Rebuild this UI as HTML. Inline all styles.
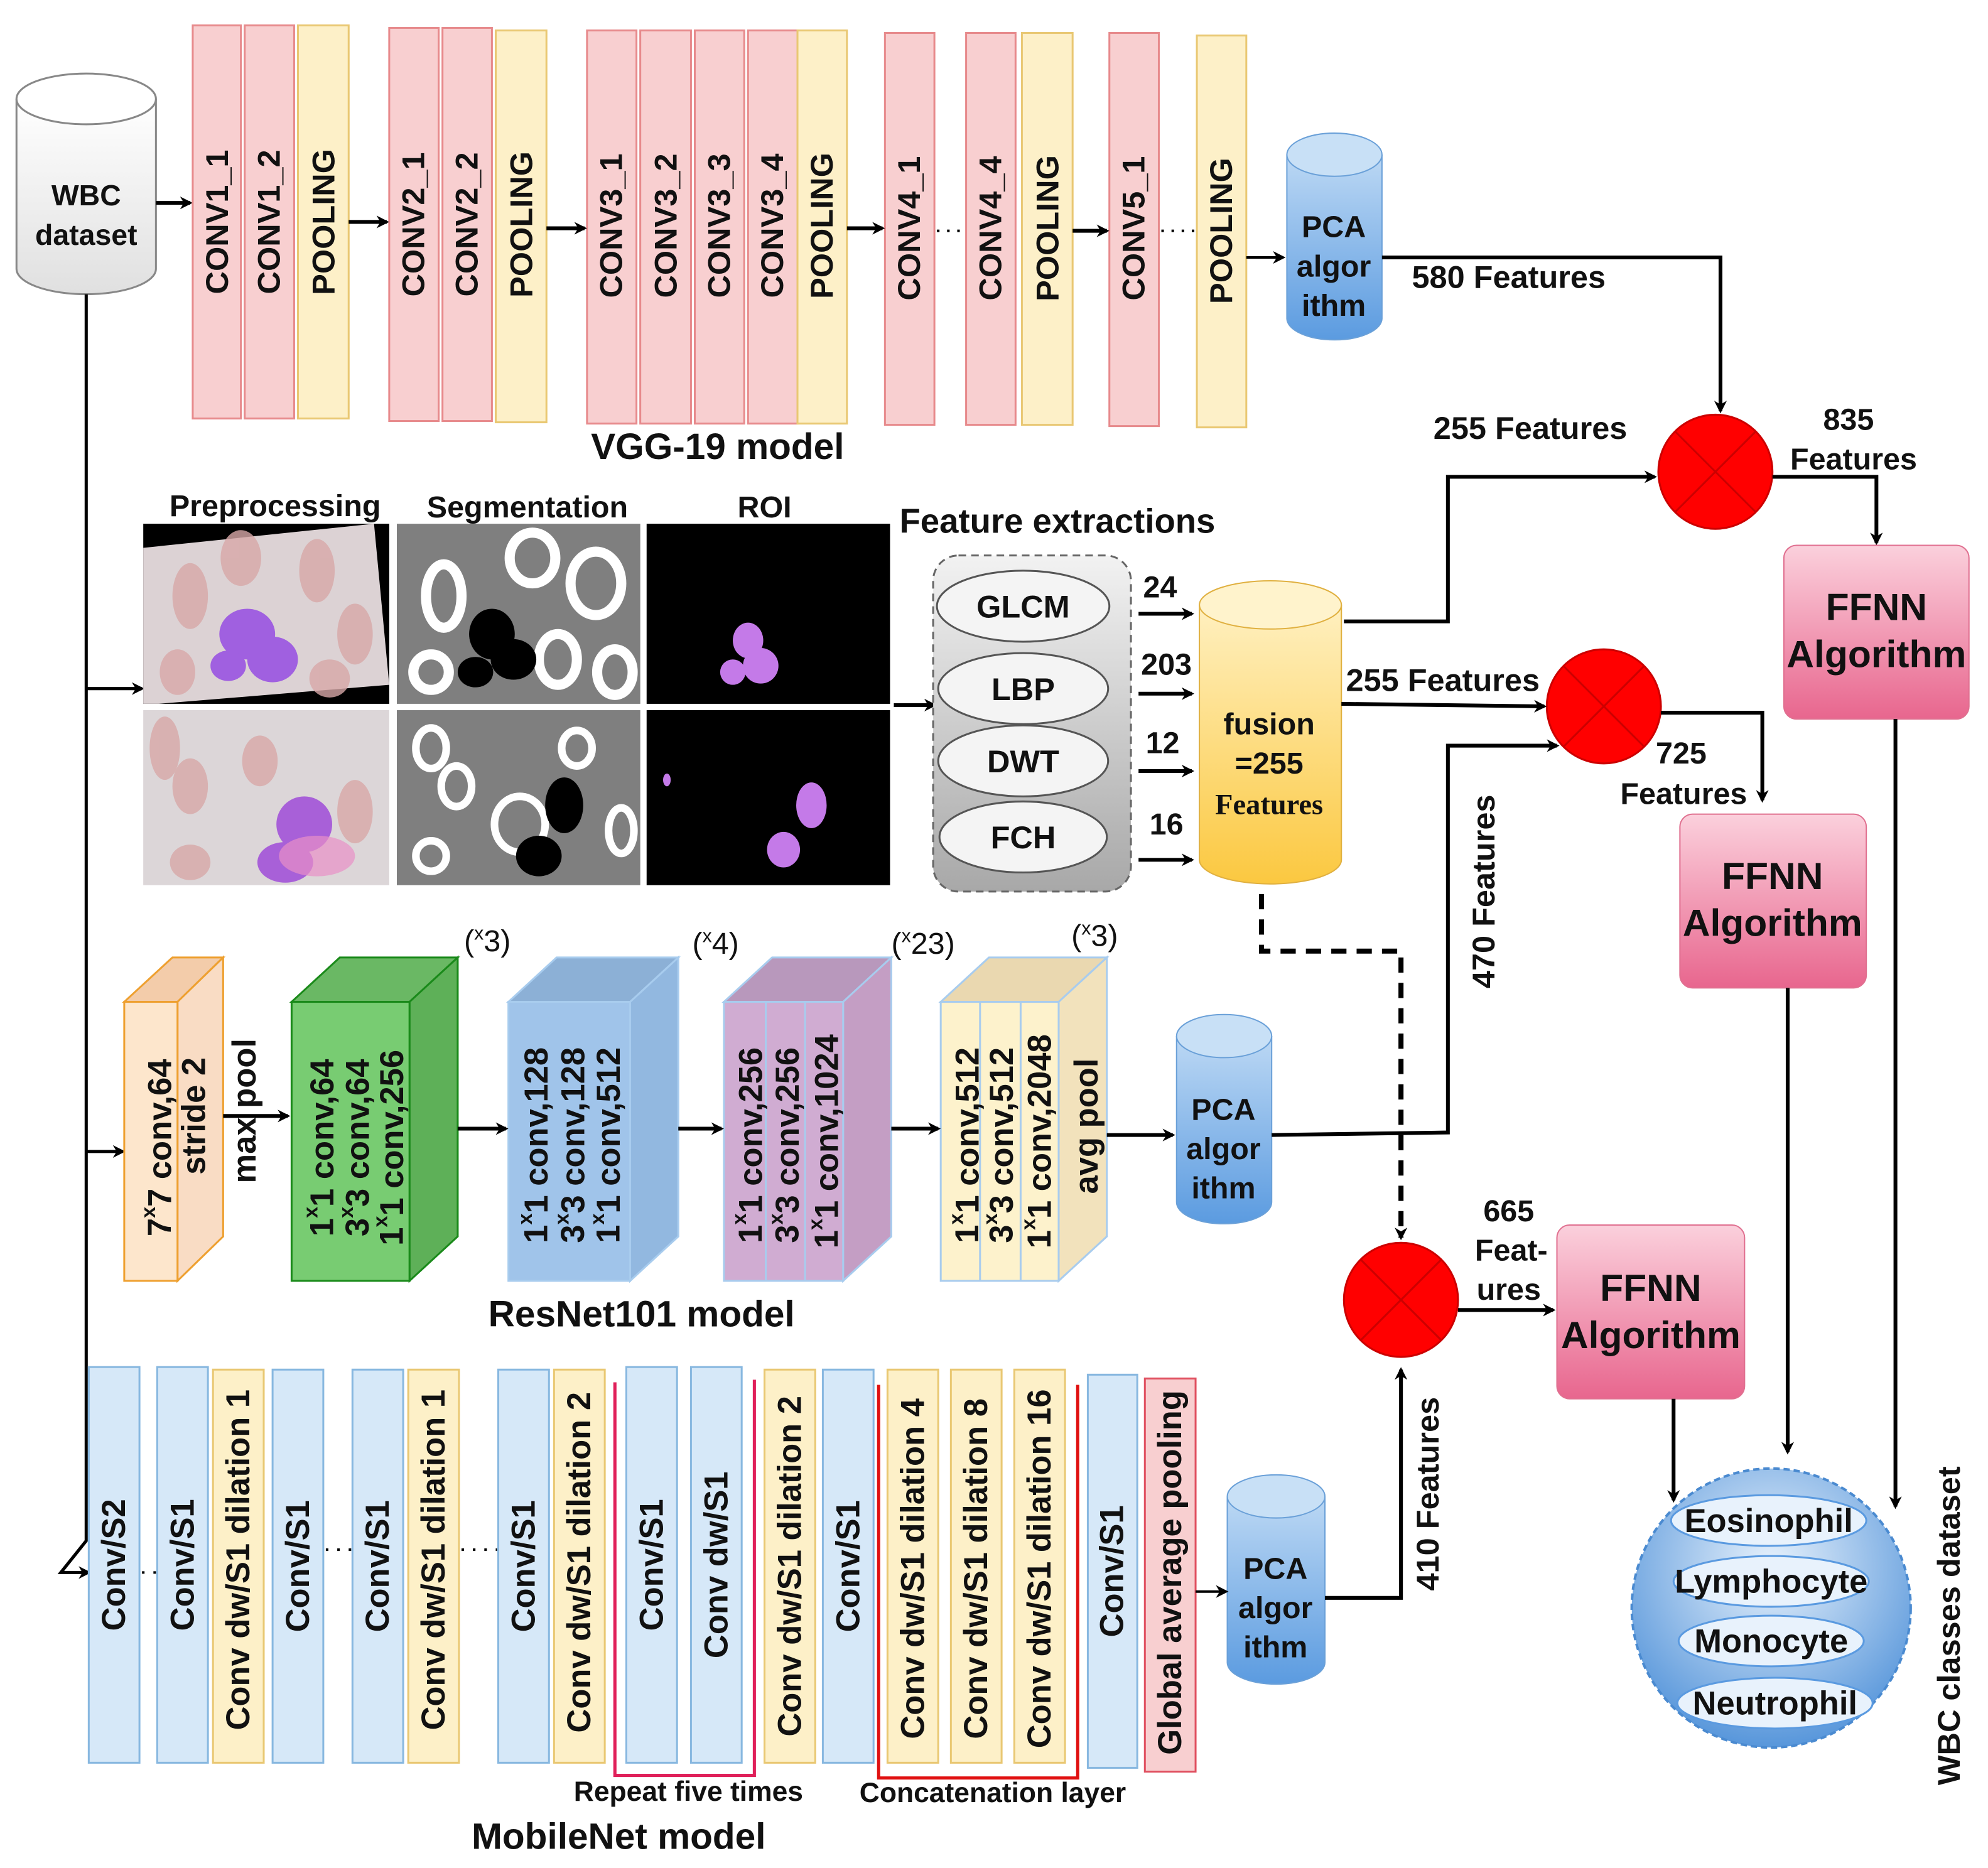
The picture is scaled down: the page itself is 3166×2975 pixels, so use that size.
<!DOCTYPE html>
<html><head><meta charset="utf-8"><style>
html,body{margin:0;padding:0;background:#fff;}
svg{display:block;}
text{font-family:"Liberation Sans",sans-serif;font-weight:bold;fill:#111;}
</style></head><body>
<svg width="3166" height="2975" viewBox="0 0 1568 1473" preserveAspectRatio="none" xmlns="http://www.w3.org/2000/svg">
<defs>
<marker id="ar" markerWidth="10" markerHeight="10" refX="8" refY="5" orient="auto" markerUnits="userSpaceOnUse"><path d="M0,0 L10,5 L0,10 L3,5 z" fill="#000"/></marker>
<linearGradient id="cylB" x1="0" y1="0" x2="0" y2="1"><stop offset="0" stop-color="#bcd8f4"/><stop offset="1" stop-color="#5b9be0"/></linearGradient>
<linearGradient id="cylY" x1="0" y1="0" x2="0" y2="1"><stop offset="0" stop-color="#fff0c0"/><stop offset="1" stop-color="#fbc840"/></linearGradient>
<linearGradient id="ffnn" x1="0" y1="0" x2="0" y2="1"><stop offset="0" stop-color="#fbd0dc"/><stop offset="1" stop-color="#e8668e"/></linearGradient>
<linearGradient id="gray" x1="0" y1="0" x2="0" y2="1"><stop offset="0" stop-color="#f2f2f2"/><stop offset="1" stop-color="#a8a8a8"/></linearGradient>
<radialGradient id="out" cx="0.5" cy="0.35" r="0.7"><stop offset="0" stop-color="#e8f2fc"/><stop offset="1" stop-color="#4c8fd8"/></radialGradient>
<linearGradient id="cylW" x1="0" y1="0" x2="0" y2="1"><stop offset="0" stop-color="#fff"/><stop offset="1" stop-color="#e0e0e0"/></linearGradient>
</defs>

<path d="M13,78 L13,212 A55,20 0 0 0 123,212 L123,78" fill="url(#cylW)" stroke="#888" stroke-width="1.5"/>
<ellipse cx="68" cy="78" rx="55" ry="20" fill="#fff" stroke="#888" stroke-width="1.5"/>
<text x="68" y="162" font-size="23" text-anchor="middle">WBC</text>
<text x="68" y="193" font-size="23" text-anchor="middle">dataset</text>
<line x1="123" y1="160" x2="150" y2="160" stroke="#000" stroke-width="3" marker-end="url(#ar)"/>

<polyline points="68,232 68,1215 48,1240 70,1240" fill="none" stroke="#000" stroke-width="2.5" marker-end="url(#ar)"/>
<line x1="68" y1="543" x2="112" y2="543" stroke="#000" stroke-width="2.5" marker-end="url(#ar)"/>
<line x1="68" y1="908" x2="97" y2="908" stroke="#000" stroke-width="2.5" marker-end="url(#ar)"/>

<g stroke-width="1.5">
<rect x="152" y="20" width="38" height="310" fill="#f8cfd0" stroke="#e78a8c"/>
<rect x="193" y="20" width="39" height="310" fill="#f8cfd0" stroke="#e78a8c"/>
<rect x="235" y="20" width="40" height="310" fill="#fdf0c8" stroke="#e9c873"/>
<rect x="307" y="22" width="39" height="310" fill="#f8cfd0" stroke="#e78a8c"/>
<rect x="349" y="22" width="39" height="310" fill="#f8cfd0" stroke="#e78a8c"/>
<rect x="391" y="24" width="40" height="309" fill="#fdf0c8" stroke="#e9c873"/>
<rect x="463" y="24" width="39" height="310" fill="#f8cfd0" stroke="#e78a8c"/>
<rect x="505" y="24" width="40" height="310" fill="#f8cfd0" stroke="#e78a8c"/>
<rect x="548" y="24" width="39" height="310" fill="#f8cfd0" stroke="#e78a8c"/>
<rect x="590" y="24" width="39" height="310" fill="#f8cfd0" stroke="#e78a8c"/>
<rect x="629" y="24" width="39" height="310" fill="#fdf0c8" stroke="#e9c873"/>
<rect x="698" y="26" width="39" height="309" fill="#f8cfd0" stroke="#e78a8c"/>
<rect x="762" y="26" width="39" height="309" fill="#f8cfd0" stroke="#e78a8c"/>
<rect x="806" y="26" width="40" height="309" fill="#fdf0c8" stroke="#e9c873"/>
<rect x="875" y="26" width="39" height="310" fill="#f8cfd0" stroke="#e78a8c"/>
<rect x="944" y="28" width="39" height="309" fill="#fdf0c8" stroke="#e9c873"/>
</g>
<g font-size="25">
<text transform="translate(171,175) rotate(-90)" text-anchor="middle" dominant-baseline="central">CONV1_1</text>
<text transform="translate(212,175) rotate(-90)" text-anchor="middle" dominant-baseline="central">CONV1_2</text>
<text transform="translate(255,175) rotate(-90)" text-anchor="middle" dominant-baseline="central">POOLING</text>
<text transform="translate(326,177) rotate(-90)" text-anchor="middle" dominant-baseline="central">CONV2_1</text>
<text transform="translate(368,177) rotate(-90)" text-anchor="middle" dominant-baseline="central">CONV2_2</text>
<text transform="translate(411,177) rotate(-90)" text-anchor="middle" dominant-baseline="central">POOLING</text>
<text transform="translate(482,178) rotate(-90)" text-anchor="middle" dominant-baseline="central">CONV3_1</text>
<text transform="translate(525,178) rotate(-90)" text-anchor="middle" dominant-baseline="central">CONV3_2</text>
<text transform="translate(567,178) rotate(-90)" text-anchor="middle" dominant-baseline="central">CONV3_3</text>
<text transform="translate(609,178) rotate(-90)" text-anchor="middle" dominant-baseline="central">CONV3_4</text>
<text transform="translate(648,178) rotate(-90)" text-anchor="middle" dominant-baseline="central">POOLING</text>
<text transform="translate(717,180) rotate(-90)" text-anchor="middle" dominant-baseline="central">CONV4_1</text>
<text transform="translate(781,180) rotate(-90)" text-anchor="middle" dominant-baseline="central">CONV4_4</text>
<text transform="translate(826,180) rotate(-90)" text-anchor="middle" dominant-baseline="central">POOLING</text>
<text transform="translate(894,180) rotate(-90)" text-anchor="middle" dominant-baseline="central">CONV5_1</text>
<text transform="translate(963,182) rotate(-90)" text-anchor="middle" dominant-baseline="central">POOLING</text>
</g>
<g stroke="#000" stroke-width="3" fill="none">
<line x1="275" y1="175" x2="305" y2="175" marker-end="url(#ar)"/>
<line x1="431" y1="180" x2="461" y2="180" marker-end="url(#ar)"/>
<line x1="668" y1="180" x2="696" y2="180" marker-end="url(#ar)"/>
<line x1="846" y1="182" x2="873" y2="182" marker-end="url(#ar)"/>
<line x1="983" y1="203" x2="1012" y2="203" stroke-width="2" marker-end="url(#ar)"/>
</g>
<g stroke="#000" stroke-width="2" stroke-dasharray="2,6"><line x1="739" y1="182" x2="761" y2="182"/><line x1="916" y1="182" x2="943" y2="182"/></g>
<text x="566" y="362" font-size="29" text-anchor="middle">VGG-19 model</text>

<g>
<path d="M1015,122 L1015,251 A37.5,17 0 0 0 1090,251 L1090,122" fill="url(#cylB)" stroke="#6aa0d8"/>
<ellipse cx="1052.5" cy="122" rx="37.5" ry="17" fill="#c8e0f6" stroke="#6aa0d8"/>
<text x="1052" y="187" font-size="24" text-anchor="middle">PCA</text><text x="1052" y="218" font-size="24" text-anchor="middle">algor</text><text x="1052" y="249" font-size="24" text-anchor="middle">ithm</text>
</g>
<g>
<path d="M928,817 L928,948 A37.5,17 0 0 0 1003,948 L1003,817" fill="url(#cylB)" stroke="#6aa0d8"/>
<ellipse cx="965.5" cy="817" rx="37.5" ry="17" fill="#c8e0f6" stroke="#6aa0d8"/>
<text x="965" y="883" font-size="24" text-anchor="middle">PCA</text><text x="965" y="914" font-size="24" text-anchor="middle">algor</text><text x="965" y="945" font-size="24" text-anchor="middle">ithm</text>
</g>
<g>
<path d="M968,1180 L968,1311 A38.5,17 0 0 0 1045,1311 L1045,1180" fill="url(#cylB)" stroke="#6aa0d8"/>
<ellipse cx="1006.5" cy="1180" rx="38.5" ry="17" fill="#c8e0f6" stroke="#6aa0d8"/>
<text x="1006" y="1245" font-size="24" text-anchor="middle">PCA</text><text x="1006" y="1276" font-size="24" text-anchor="middle">algor</text><text x="1006" y="1307" font-size="24" text-anchor="middle">ithm</text>
</g>

<polyline points="1090,203 1357,203 1357,324" fill="none" stroke="#000" stroke-width="3" marker-end="url(#ar)"/>
<text x="1190" y="227" font-size="25" text-anchor="middle">580 Features</text>

<g stroke="#c00" stroke-width="1.5">
<circle cx="1353" cy="372" r="45" fill="#f00"/>
<line x1="1321" y1="340" x2="1385" y2="404"/><line x1="1385" y1="340" x2="1321" y2="404"/>
<circle cx="1265" cy="557" r="45" fill="#f00"/>
<line x1="1233" y1="525" x2="1297" y2="589"/><line x1="1297" y1="525" x2="1233" y2="589"/>
<circle cx="1105" cy="1025" r="45" fill="#f00"/>
<line x1="1073" y1="993" x2="1137" y2="1057"/><line x1="1137" y1="993" x2="1073" y2="1057"/>
</g>
<text x="1458" y="339" font-size="24" text-anchor="middle">835</text>
<text x="1462" y="370" font-size="24" text-anchor="middle">Features</text>
<polyline points="1398,376 1480,376 1480,428" fill="none" stroke="#000" stroke-width="3" marker-end="url(#ar)"/>
<text x="1207" y="346" font-size="25" text-anchor="middle">255 Features</text>
<polyline points="1060,490 1142,490 1142,376 1305,376" fill="none" stroke="#000" stroke-width="3" marker-end="url(#ar)"/>

<rect x="1407" y="430" width="146" height="137" rx="10" fill="url(#ffnn)" stroke="#e07090"/>
<text x="1480" y="489" font-size="30" text-anchor="middle">FFNN</text><text x="1480" y="526" font-size="30" text-anchor="middle">Algorithm</text>
<rect x="1325" y="642" width="147" height="137" rx="10" fill="url(#ffnn)" stroke="#e07090"/>
<text x="1398" y="701" font-size="30" text-anchor="middle">FFNN</text><text x="1398" y="738" font-size="30" text-anchor="middle">Algorithm</text>
<rect x="1228" y="966" width="148" height="137" rx="10" fill="url(#ffnn)" stroke="#e07090"/>
<text x="1302" y="1026" font-size="30" text-anchor="middle">FFNN</text><text x="1302" y="1063" font-size="30" text-anchor="middle">Algorithm</text>

<line x1="1495" y1="567" x2="1495" y2="1188" stroke="#000" stroke-width="3" marker-end="url(#ar)"/>
<line x1="1410" y1="779" x2="1410" y2="1145" stroke="#000" stroke-width="3" marker-end="url(#ar)"/>
<line x1="1320" y1="1103" x2="1320" y2="1183" stroke="#000" stroke-width="3" marker-end="url(#ar)"/>

<rect x="113" y="413" width="194" height="142" fill="#000"/>
<polygon points="113,432 295,413 307,540 125,555 113,555" fill="#dcd2d4"/>
<g fill="#d8a8a8" opacity="0.8"><ellipse cx="150" cy="470" rx="14" ry="26"/><ellipse cx="190" cy="440" rx="16" ry="22"/><ellipse cx="250" cy="450" rx="14" ry="25"/><ellipse cx="280" cy="500" rx="14" ry="24"/><ellipse cx="140" cy="530" rx="14" ry="18"/><ellipse cx="260" cy="535" rx="16" ry="15"/></g>
<g fill="#a060e0"><ellipse cx="195" cy="500" rx="22" ry="20"/><ellipse cx="215" cy="520" rx="20" ry="18"/><ellipse cx="180" cy="525" rx="14" ry="12"/></g>
<rect x="113" y="560" width="194" height="138" fill="#dcd6d8"/>
<g fill="#d8a8a8" opacity="0.8"><ellipse cx="130" cy="590" rx="12" ry="25"/><ellipse cx="150" cy="620" rx="14" ry="22"/><ellipse cx="205" cy="600" rx="14" ry="20"/><ellipse cx="280" cy="640" rx="14" ry="25"/><ellipse cx="150" cy="680" rx="16" ry="14"/></g>
<g fill="#a860d8"><ellipse cx="240" cy="650" rx="22" ry="22"/><ellipse cx="225" cy="680" rx="22" ry="16"/></g>
<g fill="#e890c8" opacity="0.7"><ellipse cx="250" cy="675" rx="30" ry="16"/></g>

<rect x="313" y="413" width="192" height="142" fill="#7f7f7f"/>
<g fill="none" stroke="#fff" stroke-width="8"><ellipse cx="420" cy="440" rx="18" ry="20"/><ellipse cx="470" cy="460" rx="20" ry="25"/><ellipse cx="350" cy="470" rx="14" ry="25"/><ellipse cx="440" cy="520" rx="15" ry="20"/><ellipse cx="485" cy="530" rx="14" ry="18"/><ellipse cx="340" cy="530" rx="14" ry="14"/></g>
<g fill="#000"><ellipse cx="388" cy="500" rx="18" ry="20"/><ellipse cx="405" cy="520" rx="18" ry="16"/><ellipse cx="375" cy="530" rx="14" ry="12"/></g>
<rect x="313" y="560" width="192" height="138" fill="#7f7f7f"/>
<g fill="none" stroke="#fff" stroke-width="6"><ellipse cx="340" cy="590" rx="12" ry="16"/><ellipse cx="360" cy="620" rx="12" ry="16"/><ellipse cx="455" cy="590" rx="12" ry="14"/><ellipse cx="490" cy="655" rx="10" ry="18"/><ellipse cx="340" cy="675" rx="12" ry="12"/><ellipse cx="410" cy="650" rx="20" ry="22"/></g>
<g fill="#000"><ellipse cx="445" cy="635" rx="15" ry="22"/><ellipse cx="425" cy="675" rx="18" ry="16"/></g>

<rect x="510" y="413" width="192" height="142" fill="#000"/>
<g fill="#c47ae8"><ellipse cx="590" cy="505" rx="12" ry="14"/><ellipse cx="600" cy="525" rx="14" ry="14"/><ellipse cx="578" cy="530" rx="10" ry="10"/></g>
<rect x="510" y="560" width="192" height="138" fill="#000"/>
<g fill="#c47ae8"><ellipse cx="640" cy="635" rx="12" ry="18"/><ellipse cx="618" cy="670" rx="13" ry="14"/><ellipse cx="526" cy="615" rx="3" ry="5"/></g>

<text x="217" y="407" font-size="24" text-anchor="middle">Preprocessing</text>
<text x="416" y="408" font-size="24" text-anchor="middle">Segmentation</text>
<text x="603" y="408" font-size="24" text-anchor="middle">ROI</text>
<text x="834" y="420" font-size="27" text-anchor="middle">Feature extractions</text>
<line x1="705" y1="556" x2="737" y2="556" stroke="#000" stroke-width="3" marker-end="url(#ar)"/>

<rect x="736" y="438" width="156" height="265" rx="20" fill="url(#gray)" stroke="#666" stroke-width="1.5" stroke-dasharray="6,4"/>
<g fill="#f4f4f4" stroke="#555" stroke-width="1.5">
<ellipse cx="807" cy="478" rx="68" ry="28"/><ellipse cx="807" cy="543" rx="67" ry="28"/><ellipse cx="807" cy="600" rx="67" ry="28"/><ellipse cx="807" cy="660" rx="66" ry="28"/>
</g>
<g font-size="25" text-anchor="middle"><text x="807" y="487">GLCM</text><text x="807" y="552">LBP</text><text x="807" y="609">DWT</text><text x="807" y="669">FCH</text></g>
<g stroke="#000" stroke-width="3"><line x1="898" y1="484" x2="940" y2="484" marker-end="url(#ar)"/><line x1="898" y1="547" x2="940" y2="547" marker-end="url(#ar)"/><line x1="898" y1="608" x2="940" y2="608" marker-end="url(#ar)"/><line x1="898" y1="678" x2="940" y2="678" marker-end="url(#ar)"/></g>
<g font-size="24" text-anchor="middle"><text x="915" y="471">24</text><text x="920" y="532">203</text><text x="917" y="594">12</text><text x="920" y="658">16</text></g>

<path d="M946,477 L946,678 A56,19 0 0 0 1058,678 L1058,477" fill="url(#cylY)" stroke="#e0b040"/>
<ellipse cx="1002" cy="477" rx="56" ry="19" fill="#fff3cc" stroke="#e0b040"/>
<text x="1001" y="579" font-size="24" text-anchor="middle">fusion</text>
<text x="1001" y="610" font-size="24" text-anchor="middle">=255</text>
<text x="1001" y="642" font-size="23" text-anchor="middle" style="font-family:'Liberation Serif',serif">Features</text>

<line x1="1058" y1="555" x2="1218" y2="557" stroke="#000" stroke-width="3" marker-end="url(#ar)"/>
<text x="1138" y="545" font-size="25" text-anchor="middle">255 Features</text>
<polyline points="1310,562 1390,562 1390,631" fill="none" stroke="#000" stroke-width="3" marker-end="url(#ar)"/>
<text x="1326" y="602" font-size="24" text-anchor="middle">725</text>
<text x="1328" y="634" font-size="24" text-anchor="middle">Features</text>

<polyline points="995,705 995,750 1105,750 1105,976" fill="none" stroke="#000" stroke-width="4" stroke-dasharray="12,8" marker-end="url(#ar)"/>

<polyline points="1003,895 1142,893 1142,588 1228,588" fill="none" stroke="#000" stroke-width="3" marker-end="url(#ar)"/>
<text transform="translate(1170,703) rotate(-90)" font-size="25" text-anchor="middle" dominant-baseline="central">470 Features</text>

<text x="1190" y="963" font-size="24" text-anchor="middle">665</text>
<text x="1192" y="994" font-size="24" text-anchor="middle">Feat-</text>
<text x="1190" y="1025" font-size="24" text-anchor="middle">ures</text>
<line x1="1150" y1="1033" x2="1225" y2="1033" stroke="#000" stroke-width="3" marker-end="url(#ar)"/>

<circle cx="1397" cy="1268" r="110" fill="url(#out)" stroke="#4a8ad0" stroke-width="2" stroke-dasharray="5,3"/>
<g fill="#e8f2fc" stroke="#5a9ae0" stroke-width="1.5">
<ellipse cx="1395" cy="1199" rx="77" ry="20"/><ellipse cx="1397" cy="1247" rx="77" ry="20"/><ellipse cx="1397" cy="1294" rx="73" ry="20"/><ellipse cx="1400" cy="1343" rx="77" ry="20"/>
</g>
<g font-size="26" text-anchor="middle"><text x="1395" y="1208">Eosinophil</text><text x="1397" y="1256">Lymphocyte</text><text x="1397" y="1303">Monocyte</text><text x="1400" y="1352">Neutrophil</text></g>
<text transform="translate(1537,1282) rotate(-90)" font-size="25" text-anchor="middle" dominant-baseline="central">WBC classes dataset</text>

<g stroke-width="1.5">
<polygon points="98,790 136,755 176,755 140,790" fill="#f3ccaa" stroke="#eea030"/>
<polygon points="140,790 176,755 176,975 140,1010" fill="#f9dcc4" stroke="#eea030"/>
<rect x="98" y="790" width="42" height="220" fill="#fde6cc" stroke="#eea030"/>
<polygon points="230,790 268,755 361,755 323,790" fill="#6ab864" stroke="#1a8a1a"/>
<polygon points="323,790 361,755 361,975 323,1010" fill="#5eb058" stroke="#1a8a1a"/>
<rect x="230" y="790" width="93" height="220" fill="#78cc72" stroke="#1a8a1a"/>
<polygon points="401,790 439,755 535,755 497,790" fill="#8cb0d6" stroke="#a8ccee"/>
<polygon points="497,790 535,755 535,975 497,1010" fill="#92b8e0" stroke="#a8ccee"/>
<rect x="401" y="790" width="96" height="220" fill="#a0c4ea" stroke="#a8ccee"/>
<polygon points="571,790 609,755 703,755 665,790" fill="#b898bc" stroke="#a8ccee"/>
<polygon points="665,790 703,755 703,975 665,1010" fill="#c49ec4" stroke="#a8ccee"/>
<rect x="571" y="790" width="94" height="220" fill="#d0acd2" stroke="#a8ccee"/>
<line x1="604" y1="790" x2="604" y2="1010" stroke="#a8ccee"/><line x1="635" y1="790" x2="635" y2="1010" stroke="#a8ccee"/>
<polygon points="742,790 780,755 873,755 835,790" fill="#ead8b0" stroke="#a8ccee"/>
<polygon points="835,790 873,755 873,975 835,1010" fill="#f2e2bc" stroke="#a8ccee"/>
<rect x="742" y="790" width="93" height="220" fill="#fdf2cc" stroke="#a8ccee"/>
<line x1="773" y1="790" x2="773" y2="1010" stroke="#a8ccee"/><line x1="805" y1="790" x2="805" y2="1010" stroke="#a8ccee"/>
</g>
<g font-size="26">
<text transform="translate(126,905) rotate(-90)" text-anchor="middle" dominant-baseline="central">7<tspan font-size="16" dy="-9">x</tspan><tspan dy="9">7 conv,64</tspan></text>
<text transform="translate(153,880) rotate(-90)" text-anchor="middle" dominant-baseline="central">stride 2</text>
<text transform="translate(193,876) rotate(-90)" text-anchor="middle" dominant-baseline="central">max pool</text>
<text transform="translate(254,905) rotate(-90)" text-anchor="middle" dominant-baseline="central">1<tspan font-size="16" dy="-9">x</tspan><tspan dy="9">1 conv,64</tspan></text>
<text transform="translate(282,905) rotate(-90)" text-anchor="middle" dominant-baseline="central">3<tspan font-size="16" dy="-9">x</tspan><tspan dy="9">3 conv,64</tspan></text>
<text transform="translate(309,905) rotate(-90)" text-anchor="middle" dominant-baseline="central">1<tspan font-size="16" dy="-9">x</tspan><tspan dy="9">1 conv,256</tspan></text>
<text transform="translate(423,903) rotate(-90)" text-anchor="middle" dominant-baseline="central">1<tspan font-size="16" dy="-9">x</tspan><tspan dy="9">1 conv,128</tspan></text>
<text transform="translate(452,903) rotate(-90)" text-anchor="middle" dominant-baseline="central">3<tspan font-size="16" dy="-9">x</tspan><tspan dy="9">3 conv,128</tspan></text>
<text transform="translate(480,903) rotate(-90)" text-anchor="middle" dominant-baseline="central">1<tspan font-size="16" dy="-9">x</tspan><tspan dy="9">1 conv,512</tspan></text>
<text transform="translate(592,903) rotate(-90)" text-anchor="middle" dominant-baseline="central">1<tspan font-size="16" dy="-9">x</tspan><tspan dy="9">1 conv,256</tspan></text>
<text transform="translate(621,903) rotate(-90)" text-anchor="middle" dominant-baseline="central">3<tspan font-size="16" dy="-9">x</tspan><tspan dy="9">3 conv,256</tspan></text>
<text transform="translate(652,900) rotate(-90)" text-anchor="middle" dominant-baseline="central">1<tspan font-size="16" dy="-9">x</tspan><tspan dy="9">1 conv,1024</tspan></text>
<text transform="translate(763,903) rotate(-90)" text-anchor="middle" dominant-baseline="central">1<tspan font-size="16" dy="-9">x</tspan><tspan dy="9">1 conv,512</tspan></text>
<text transform="translate(790,903) rotate(-90)" text-anchor="middle" dominant-baseline="central">3<tspan font-size="16" dy="-9">x</tspan><tspan dy="9">3 conv,512</tspan></text>
<text transform="translate(820,900) rotate(-90)" text-anchor="middle" dominant-baseline="central">1<tspan font-size="16" dy="-9">x</tspan><tspan dy="9">1 conv,2048</tspan></text>
<text transform="translate(857,888) rotate(-90)" text-anchor="middle" dominant-baseline="central">avg  pool</text>
</g>
<g font-size="24">
<text x="366" y="750" style="font-weight:normal">(<tspan font-size="15" dy="-9">x</tspan><tspan dy="9">3)</tspan></text>
<text x="546" y="752" style="font-weight:normal">(<tspan font-size="15" dy="-9">x</tspan><tspan dy="9">4)</tspan></text>
<text x="703" y="752" style="font-weight:normal">(<tspan font-size="15" dy="-9">x</tspan><tspan dy="9">23)</tspan></text>
<text x="845" y="746" style="font-weight:normal">(<tspan font-size="15" dy="-9">x</tspan><tspan dy="9">3)</tspan></text>
</g>
<g stroke="#000" stroke-width="3">
<line x1="176" y1="880" x2="227" y2="880" marker-end="url(#ar)"/>
<line x1="361" y1="890" x2="399" y2="890" marker-end="url(#ar)"/>
<line x1="535" y1="890" x2="569" y2="890" marker-end="url(#ar)"/>
<line x1="703" y1="890" x2="740" y2="890" marker-end="url(#ar)"/>
<line x1="873" y1="895" x2="925" y2="895" marker-end="url(#ar)"/>
</g>
<text x="506" y="1046" font-size="29" text-anchor="middle">ResNet101 model</text>

<g stroke-width="1.5">
<rect x="70" y="1078" width="40" height="312" fill="#d6e8f8" stroke="#88b8e0"/>
<rect x="124" y="1078" width="40" height="312" fill="#d6e8f8" stroke="#88b8e0"/>
<rect x="168" y="1080" width="40" height="310" fill="#fdf0c8" stroke="#e9c873"/>
<rect x="215" y="1080" width="40" height="310" fill="#d6e8f8" stroke="#88b8e0"/>
<rect x="278" y="1080" width="40" height="310" fill="#d6e8f8" stroke="#88b8e0"/>
<rect x="322" y="1080" width="40" height="310" fill="#fdf0c8" stroke="#e9c873"/>
<rect x="393" y="1080" width="40" height="310" fill="#d6e8f8" stroke="#88b8e0"/>
<rect x="437" y="1080" width="40" height="310" fill="#fdf0c8" stroke="#e9c873"/>
<rect x="494" y="1078" width="40" height="312" fill="#d6e8f8" stroke="#88b8e0"/>
<rect x="545" y="1078" width="40" height="312" fill="#d6e8f8" stroke="#88b8e0"/>
<rect x="603" y="1080" width="40" height="310" fill="#fdf0c8" stroke="#e9c873"/>
<rect x="649" y="1080" width="40" height="310" fill="#d6e8f8" stroke="#88b8e0"/>
<rect x="700" y="1080" width="40" height="310" fill="#fdf0c8" stroke="#e9c873"/>
<rect x="750" y="1080" width="40" height="310" fill="#fdf0c8" stroke="#e9c873"/>
<rect x="800" y="1080" width="40" height="310" fill="#fdf0c8" stroke="#e9c873"/>
<rect x="858" y="1084" width="39" height="310" fill="#d6e8f8" stroke="#88b8e0"/>
<rect x="903" y="1087" width="40" height="310" fill="#f8cfd0" stroke="#e05060"/>
</g>
<polyline points="485,1090 485,1400 595,1400 595,1088" fill="none" stroke="#e0205a" stroke-width="2.5"/>
<polyline points="693,1092 693,1402 850,1402 850,1092" fill="none" stroke="#e01010" stroke-width="2.5"/>
<g font-size="26">
<text transform="translate(90,1234) rotate(-90)" text-anchor="middle" dominant-baseline="central">Conv/S2</text>
<text transform="translate(144,1234) rotate(-90)" text-anchor="middle" dominant-baseline="central">Conv/S1</text>
<text transform="translate(188,1230) rotate(-90)" text-anchor="middle" dominant-baseline="central">Conv dw/S1 dilation 1</text>
<text transform="translate(235,1235) rotate(-90)" text-anchor="middle" dominant-baseline="central">Conv/S1</text>
<text transform="translate(298,1235) rotate(-90)" text-anchor="middle" dominant-baseline="central">Conv/S1</text>
<text transform="translate(342,1230) rotate(-90)" text-anchor="middle" dominant-baseline="central">Conv dw/S1 dilation 1</text>
<text transform="translate(413,1235) rotate(-90)" text-anchor="middle" dominant-baseline="central">Conv/S1</text>
<text transform="translate(457,1232) rotate(-90)" text-anchor="middle" dominant-baseline="central">Conv dw/S1 dilation 2</text>
<text transform="translate(514,1234) rotate(-90)" text-anchor="middle" dominant-baseline="central">Conv/S1</text>
<text transform="translate(565,1234) rotate(-90)" text-anchor="middle" dominant-baseline="central">Conv dw/S1</text>
<text transform="translate(623,1235) rotate(-90)" text-anchor="middle" dominant-baseline="central">Conv dw/S1 dilation 2</text>
<text transform="translate(669,1235) rotate(-90)" text-anchor="middle" dominant-baseline="central">Conv/S1</text>
<text transform="translate(720,1237) rotate(-90)" text-anchor="middle" dominant-baseline="central">Conv dw/S1 dilation 4</text>
<text transform="translate(770,1237) rotate(-90)" text-anchor="middle" dominant-baseline="central">Conv dw/S1 dilation 8</text>
<text transform="translate(820,1237) rotate(-90)" text-anchor="middle" dominant-baseline="central">Conv dw/S1 dilation 16</text>
<text transform="translate(877,1239) rotate(-90)" text-anchor="middle" dominant-baseline="central">Conv/S1</text>
<text transform="translate(923,1240) rotate(-90)" text-anchor="middle" dominant-baseline="central">Global average pooling</text>
</g>
<g stroke="#000" stroke-width="2" stroke-dasharray="2,7"><line x1="112" y1="1240" x2="123" y2="1240"/><line x1="257" y1="1222" x2="277" y2="1222"/><line x1="364" y1="1222" x2="392" y2="1222"/></g>
<line x1="943" y1="1255" x2="967" y2="1255" stroke="#000" stroke-width="2" marker-end="url(#ar)"/>
<polyline points="1045,1260 1105,1260 1105,1080" fill="none" stroke="#000" stroke-width="3" marker-end="url(#ar)"/>
<text transform="translate(1126,1178) rotate(-90)" font-size="25" text-anchor="middle" dominant-baseline="central">410 Features</text>
<text x="543" y="1420" font-size="22" text-anchor="middle">Repeat five times</text>
<text x="783" y="1421" font-size="22" text-anchor="middle">Concatenation layer</text>
<text x="488" y="1458" font-size="29" text-anchor="middle">MobileNet model</text>
</svg>
</body></html>
